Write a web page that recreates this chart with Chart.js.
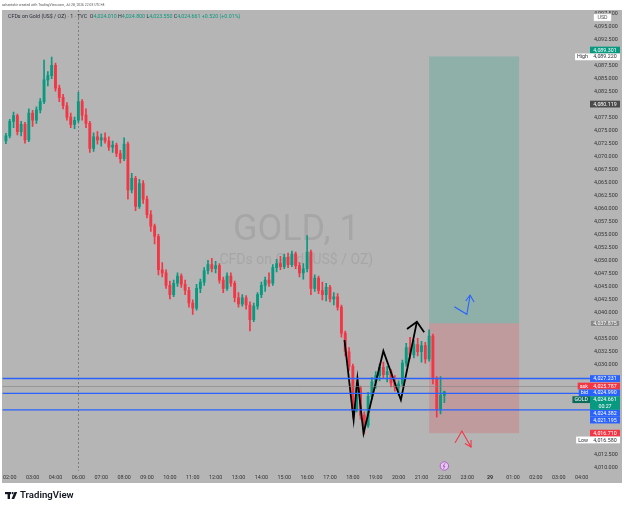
<!DOCTYPE html>
<html>
<head>
<meta charset="utf-8">
<title>GOLD, 1</title>
<script src="https://cdn.jsdelivr.net/npm/chart.js@4.4.1/dist/chart.umd.min.js"></script>
<style>
  html, body { margin: 0; padding: 0; background: #fff; }
  canvas { display: block; }
</style>
</head>
<body>
<canvas id="goldChart" width="625" height="509"></canvas>
<script>
// 10-minute candles; slot 0 = 02:00, 05:00-06:00 is the daily break
const firstSlot = -1;
const opens = [
  4073.0, 4074.0, 4076.8, 4077.9, 4074.8, 4076.2, 4073.2, 4078.4, 4077.0, 4079.0,
  4080.6, 4084.8, 4085.6, 4087.6, 4083.2, 4081.4, 4079.8, 4077.6, 4076.2, 4077.0,
  4080.6, 4078.0, 4076.4, 4071.6, 4073.8, 4073.2, 4073.6, 4073.0, 4071.8, 4072.2,
  4070.6, 4069.6, 4072.4, 4063.6, 4065.8, 4060.4, 4064.8, 4061.8, 4058.8, 4056.6,
  4054.6, 4048.2, 4047.6, 4045.2, 4043.4, 4045.6, 4047.0, 4045.4, 4044.2, 4041.8,
  4040.8, 4044.6, 4045.8, 4048.0, 4049.2, 4048.4, 4049.0, 4046.2, 4044.6, 4047.0,
  4045.6, 4042.8, 4041.6, 4042.8, 4041.4, 4038.6, 4041.2, 4043.4, 4045.2, 4046.2,
  4045.6, 4048.6, 4049.4, 4048.8, 4050.6, 4049.2, 4051.2, 4049.0, 4047.6, 4048.4,
  4051.6, 4044.6, 4046.6, 4044.2, 4043.4, 4044.8, 4042.6, 4043.0, 4041.0, 4036.0,
  4032.4, 4029.6, 4021.2, 4025.4, 4020.2, 4018.2, 4023.8, 4026.6, 4027.8, 4029.4,
  4028.0, 4028.6, 4026.4, 4025.6, 4026.2, 4030.2, 4033.2, 4031.8, 4033.8, 4032.4,
  4033.6, 4031.0, 4035.4, 4027.2, 4021.4, 4024.0
];
const highs = [
  4074.5, 4077.2, 4078.6, 4078.2, 4076.8, 4076.6, 4079.2, 4078.9, 4079.6, 4081.2,
  4088.6, 4086.4, 4089.2, 4088.0, 4083.8, 4082.0, 4080.4, 4078.4, 4077.6, 4082.4,
  4081.0, 4079.2, 4076.8, 4074.6, 4074.8, 4074.4, 4074.6, 4073.8, 4073.0, 4072.6,
  4071.2, 4073.6, 4072.8, 4066.8, 4066.2, 4065.6, 4065.4, 4062.4, 4059.6, 4057.0,
  4055.0, 4049.6, 4048.2, 4046.0, 4046.2, 4047.6, 4047.4, 4046.2, 4044.8, 4042.4,
  4045.4, 4046.4, 4048.6, 4050.0, 4050.4, 4049.8, 4049.4, 4046.8, 4047.6, 4047.6,
  4046.0, 4043.8, 4043.4, 4043.2, 4042.0, 4041.8, 4043.8, 4045.8, 4046.8, 4047.6,
  4049.2, 4050.2, 4050.8, 4051.2, 4051.4, 4051.8, 4051.6, 4049.6, 4049.4, 4054.8,
  4052.0, 4047.2, 4047.0, 4045.8, 4045.6, 4045.2, 4043.8, 4043.6, 4041.4, 4036.4,
  4033.2, 4030.0, 4026.4, 4025.8, 4020.8, 4024.6, 4027.4, 4028.6, 4030.0, 4030.4,
  4029.6, 4029.0, 4027.8, 4026.8, 4030.8, 4034.0, 4035.2, 4034.6, 4035.0, 4034.4,
  4034.2, 4036.6, 4035.8, 4027.6, 4027.6, 4024.8
];
const lows = [
  4072.5, 4073.6, 4075.6, 4074.2, 4074.0, 4072.6, 4072.9, 4075.8, 4076.4, 4078.4,
  4080.2, 4083.6, 4085.0, 4082.6, 4080.6, 4079.2, 4077.0, 4075.6, 4075.4, 4076.6,
  4077.0, 4075.6, 4070.8, 4071.0, 4072.4, 4072.0, 4072.6, 4071.2, 4070.8, 4070.0,
  4068.8, 4069.2, 4061.8, 4063.0, 4059.6, 4060.0, 4061.0, 4058.2, 4055.6, 4053.2,
  4047.2, 4046.8, 4044.6, 4042.6, 4043.0, 4045.0, 4044.8, 4043.4, 4041.0, 4039.6,
  4040.4, 4043.8, 4045.2, 4047.4, 4047.8, 4047.6, 4045.6, 4043.8, 4044.2, 4045.0,
  4042.0, 4041.0, 4041.2, 4040.6, 4036.4, 4038.2, 4040.6, 4042.8, 4044.0, 4045.0,
  4045.2, 4047.8, 4048.2, 4048.4, 4048.6, 4048.8, 4048.4, 4046.8, 4046.4, 4047.8,
  4043.4, 4044.0, 4043.6, 4042.4, 4042.2, 4042.0, 4041.4, 4040.4, 4035.2, 4031.6,
  4028.8, 4019.6, 4020.8, 4019.4, 4016.58, 4017.8, 4023.2, 4025.4, 4026.8, 4027.2,
  4026.6, 4025.6, 4024.8, 4024.0, 4025.8, 4029.6, 4031.0, 4031.2, 4031.6, 4030.4,
  4030.2, 4030.6, 4026.2, 4019.8, 4020.4, 4022.6
];
const closes = [
  4074.0, 4076.8, 4077.9, 4074.8, 4076.2, 4073.2, 4078.4, 4077.0, 4079.0, 4080.6,
  4084.8, 4085.6, 4087.6, 4083.2, 4081.4, 4079.8, 4077.6, 4076.2, 4077.0, 4080.6,
  4078.0, 4076.4, 4071.6, 4073.8, 4073.2, 4073.6, 4073.0, 4071.8, 4072.2, 4070.6,
  4069.6, 4072.4, 4063.6, 4065.8, 4060.4, 4064.8, 4061.8, 4058.8, 4056.6, 4054.6,
  4048.2, 4047.6, 4045.2, 4043.4, 4045.6, 4047.0, 4045.4, 4044.2, 4041.8, 4040.8,
  4044.6, 4045.8, 4048.0, 4049.2, 4048.4, 4049.0, 4046.2, 4044.6, 4047.0, 4045.6,
  4042.8, 4041.6, 4042.8, 4041.4, 4038.6, 4041.2, 4043.4, 4045.2, 4046.2, 4045.6,
  4048.6, 4049.4, 4048.8, 4050.6, 4049.2, 4051.2, 4049.0, 4047.6, 4048.4, 4051.6,
  4044.6, 4046.6, 4044.2, 4043.4, 4044.8, 4042.6, 4043.0, 4041.0, 4036.0, 4032.4,
  4029.6, 4021.2, 4025.4, 4020.2, 4018.2, 4023.8, 4026.6, 4027.8, 4029.4, 4028.0,
  4028.6, 4026.4, 4025.6, 4026.2, 4030.2, 4033.2, 4031.8, 4033.8, 4032.4, 4033.6,
  4031.0, 4035.4, 4027.2, 4021.4, 4024.0, 4024.661
];

// time axis
const hourSlots = [0, 6, 12, 18, 24, 30, 36, 42, 48, 54, 60, 66, 72, 78, 84, 90, 96, 102, 108, 114, 120, 126, 132, 138, 144, 150];
const hourLabels = ['02:00', '03:00', '04:00', '06:00', '07:00', '08:00', '09:00', '10:00', '11:00', '12:00', '13:00',
  '14:00', '15:00', '16:00', '17:00', '18:00', '19:00', '20:00', '21:00', '22:00', '23:00', '29', '01:00', '02:00', '03:00', '04:00'];
const sessionBreakSlot = 18;
const eventSlot = 114;

// price axis
const priceMin = 4009.42;
const priceMax = 4098.25;
const priceStep = 2.5;

// header (last 1-minute bar)
const lastBarOHLC = [4024.010, 4024.800, 4023.550, 4024.661];
const lastBarChange = '+0.520 (+0.01%)';

// drawings
const zigzagSlots = [87.8, 90.2, 91.2, 92.8, 98.0, 102.6, 106.8];
const zigzagPrices = [4034.66, 4019.25, 4027.28, 4016.69, 4032.54, 4023.10, 4038.19];
const zigzagHeadSlots = [104.2, 106.8, 108.7];
const zigzagHeadPrices = [4036.78, 4038.19, 4036.15];
const blueArrowSlots = [116.6, 119.9, 120.75];
const blueArrowPrices = [4041.08, 4039.61, 4043.28];
const blueHeadSlots = [119.6, 120.75, 121.8];
const blueHeadPrices = [4042.18, 4043.28, 4041.98];
const redArrowSlots = [116.8, 118.6, 121.0];
const redArrowPrices = [4014.87, 4017.13, 4014.05];
const redHeadSlots = [119.4, 121.0, 121.0];
const redHeadPrices = [4014.70, 4014.05, 4015.39];

// long position tool
const positionSlots = [110.0, 133.6];
const entryPrice = 4037.875;
const takeProfit = 4089.301;
const stopLoss = 4016.710;

// horizontal levels and price-scale marks
const blueLevels = [4027.231, 4024.382, 4021.195];
const askPrice = 4025.787;
const bidPrice = 4024.990;
const lastPrice = 4024.661;
const barCountdown = '00:27';
const dayHigh = 4089.220;
const dayLow = 4016.580;
const markerPrice = 4080.119;

const UP = '#089981', DOWN = '#f23645', BLUE = '#2962ff';
const PANE = '#b5b5b5';
const FONT = 'Roboto, "Liberation Sans", sans-serif';

const fmt = v => v.toLocaleString('en-US', { minimumFractionDigits: 3, maximumFractionDigits: 3 });
const pts = (xs, ys) => xs.map((x, i) => ({ x, y: ys[i] }));

const candleSlots = opens.map((_, i) => firstSlot + i);
const candleColors = closes.map((c, i) => c >= opens[i] ? UP : DOWN);

function lineSet(xs, ys, color, width) {
  return { type: 'line', data: pts(xs, ys), borderColor: color, borderWidth: width,
    pointRadius: 0, tension: 0, fill: false, order: 0 };
}

function axisLabel(ctx, x, yc, w, h, text, bg, fg, border) {
  ctx.fillStyle = bg;
  ctx.fillRect(x, yc - h / 2, w, h);
  if (border) {
    ctx.strokeStyle = border;
    ctx.lineWidth = 0.6;
    ctx.strokeRect(x + 0.3, yc - h / 2 + 0.3, w - 0.6, h - 0.6);
  }
  ctx.fillStyle = fg;
  ctx.textAlign = 'center';
  ctx.textBaseline = 'middle';
  ctx.fillText(text, x + w / 2, yc + 0.3);
}

const decor = {
  id: 'decor',
  beforeDraw(chart) {
    const { ctx } = chart;
    ctx.save();
    ctx.fillStyle = '#ffffff';
    ctx.fillRect(0, 0, chart.width, chart.height);
    ctx.fillStyle = PANE;
    ctx.fillRect(2, 10, 620, 473);

    ctx.textBaseline = 'middle';
    ctx.fillStyle = '#555';
    ctx.font = '3.4px ' + FONT;
    ctx.fillText('azhantahir created with TradingView.com, Jul 28, 2026 22:03 UTC+8', 2, 5);

    const dark = '#2a2e39';
    const parts = [
      ['CFDs on Gold (US$ / OZ) · 1 · TVC  ', dark],
      ['O', dark], [fmt(lastBarOHLC[0]), UP],
      [' H', dark], [fmt(lastBarOHLC[1]), UP],
      [' L', dark], [fmt(lastBarOHLC[2]), UP],
      [' C', dark], [fmt(lastBarOHLC[3]), UP],
      [' ' + lastBarChange, UP]
    ];
    ctx.font = '5.3px ' + FONT;
    let x = 8;
    parts.forEach(([t, c]) => {
      ctx.fillStyle = c;
      ctx.fillText(t, x, 17);
      x += ctx.measureText(t).width;
    });
    ctx.restore();
  },
  beforeDatasetsDraw(chart) {
    const { ctx, chartArea: a, scales: { x, y } } = chart;
    ctx.save();
    ctx.beginPath();
    ctx.rect(a.left, a.top, a.right - a.left, a.bottom - a.top);
    ctx.clip();

    // watermark
    const cx = (a.left + a.right) / 2;
    ctx.fillStyle = 'rgba(120,120,120,0.24)';
    ctx.textAlign = 'center';
    ctx.textBaseline = 'middle';
    ctx.font = '36px ' + FONT;
    ctx.fillText('GOLD, 1', cx, 231);
    ctx.font = '14px ' + FONT;
    ctx.fillText('CFDs on Gold (US$ / OZ)', cx, 260);

    // session break
    const bx = Math.round(x.getPixelForValue(sessionBreakSlot)) + 0.5;
    ctx.strokeStyle = 'rgba(80,80,80,0.55)';
    ctx.lineWidth = 1;
    ctx.setLineDash([2, 2]);
    ctx.beginPath();
    ctx.moveTo(bx, a.top);
    ctx.lineTo(bx, a.bottom);
    ctx.stroke();
    ctx.setLineDash([]);

    // long position zones
    const x0 = x.getPixelForValue(positionSlots[0]);
    const x1 = x.getPixelForValue(positionSlots[1]);
    const yTp = y.getPixelForValue(takeProfit);
    const yEn = y.getPixelForValue(entryPrice);
    const ySl = y.getPixelForValue(stopLoss);
    ctx.fillStyle = 'rgba(8,153,129,0.22)';
    ctx.fillRect(x0, yTp, x1 - x0, yEn - yTp);
    ctx.fillStyle = 'rgba(242,54,69,0.2)';
    ctx.fillRect(x0, yEn, x1 - x0, ySl - yEn);
    ctx.restore();
  },
  afterDatasetsDraw(chart) {
    const { ctx, chartArea: a, scales: { y } } = chart;
    ctx.save();
    // ask line
    const ya = Math.round(y.getPixelForValue(askPrice)) + 0.5;
    ctx.strokeStyle = 'rgba(130,130,130,0.6)';
    ctx.lineWidth = 1;
    ctx.beginPath();
    ctx.moveTo(a.left, ya);
    ctx.lineTo(a.right, ya);
    ctx.stroke();
    // blue levels
    ctx.strokeStyle = BLUE;
    ctx.lineWidth = 1.4;
    blueLevels.forEach(p => {
      const yy = y.getPixelForValue(p);
      ctx.beginPath();
      ctx.moveTo(a.left, yy);
      ctx.lineTo(a.right, yy);
      ctx.stroke();
    });
    ctx.restore();
  },
  afterDraw(chart) {
    const { ctx, chartArea: a, scales: { x, y } } = chart;
    ctx.save();
    ctx.font = '5.3px ' + FONT;
    const bx = a.right;
    const bw = 30;
    const h = 6.8;

    const marks = [
      { p: takeProfit, text: fmt(takeProfit), bg: UP, fg: '#fff' },
      { p: dayHigh, text: fmt(dayHigh), bg: '#fff', fg: '#2a2e39', tag: 'High', tagBg: '#fff', tagFg: '#2a2e39' },
      { p: markerPrice, text: fmt(markerPrice), bg: '#4a4a4a', fg: '#fff' },
      { p: entryPrice, text: fmt(entryPrice), bg: '#8a8a8a', fg: '#ffffff', border: '#cfcfcf' },
      { p: blueLevels[0], text: fmt(blueLevels[0]), bg: BLUE, fg: '#fff' },
      { p: askPrice, text: fmt(askPrice), bg: DOWN, fg: '#fff', tag: 'ask', tagBg: DOWN, tagFg: '#fff' },
      { p: bidPrice, text: fmt(bidPrice), bg: BLUE, fg: '#fff', tag: 'bid', tagBg: BLUE, tagFg: '#fff' },
      { p: lastPrice, text: fmt(lastPrice), sub: barCountdown, bg: UP, fg: '#fff', tag: 'GOLD', tagBg: '#0b6b5a', tagFg: '#fff' },
      { p: blueLevels[1], text: fmt(blueLevels[1]), bg: BLUE, fg: '#fff' },
      { p: blueLevels[2], text: fmt(blueLevels[2]), bg: BLUE, fg: '#fff' },
      { p: stopLoss, text: fmt(stopLoss), bg: DOWN, fg: '#fff' },
      { p: dayLow, text: fmt(dayLow), bg: '#fff', fg: '#2a2e39', tag: 'Low', tagBg: '#fff', tagFg: '#2a2e39' }
    ];
    marks.sort((m1, m2) => m2.p - m1.p);
    // stack overlapping labels downwards; the topmost label of the scale moves up instead
    const placed = [];
    marks.forEach(m => {
      m.hh = m.sub ? h * 2 : h;
      m.yc = y.getPixelForValue(m.p);
      const prev = placed[placed.length - 1];
      if (prev && m.yc - m.hh / 2 < prev.yc + prev.hh / 2) {
        if (placed.length === 1) {
          prev.yc = m.yc - m.hh / 2 - prev.hh / 2;
        } else {
          m.yc = prev.yc + prev.hh / 2 + m.hh / 2;
        }
      }
      placed.push(m);
    });

    // hide scale ticks hidden behind the labels
    y.ticks.forEach(t => {
      const py = y.getPixelForValue(t.value);
      if (placed.some(m => Math.abs(py - m.yc) < m.hh / 2 + 3)) {
        ctx.fillStyle = PANE;
        ctx.fillRect(bx + 1, py - 3.2, 31, 6.4);
      }
    });

    // USD box
    axisLabel(ctx, 593, 17.5, 19, 8, 'USD', '#ffffff', '#555', '#999');

    placed.forEach(m => {
      const yc = m.yc, hh = m.hh;
      if (m.sub) {
        ctx.fillStyle = m.bg;
        ctx.fillRect(bx, yc - hh / 2, bw, hh);
        ctx.fillStyle = m.fg;
        ctx.textAlign = 'center';
        ctx.textBaseline = 'middle';
        ctx.fillText(m.text, bx + bw / 2, yc - h / 2 + 0.3);
        ctx.fillText(m.sub, bx + bw / 2, yc + h / 2 + 0.3);
      } else {
        axisLabel(ctx, bx, yc, bw, h, m.text, m.bg, m.fg, m.border);
      }
      if (m.tag) {
        const tw = ctx.measureText(m.tag).width + 4;
        axisLabel(ctx, bx - tw, m.sub ? yc - h / 2 : yc, tw, h, m.tag, m.tagBg, m.tagFg);
      }
    });

    // economic event marker
    const ex = x.getPixelForValue(eventSlot);
    const ey = a.bottom - 5;
    ctx.beginPath();
    ctx.arc(ex, ey, 4.2, 0, Math.PI * 2);
    ctx.fillStyle = '#e6c8ee';
    ctx.fill();
    ctx.strokeStyle = '#a54bc4';
    ctx.lineWidth = 0.8;
    ctx.stroke();
    ctx.beginPath();
    ctx.moveTo(ex + 0.8, ey - 2.8);
    ctx.lineTo(ex - 1.3, ey + 0.3);
    ctx.lineTo(ex + 0.5, ey + 0.3);
    ctx.lineTo(ex - 0.8, ey + 2.8);
    ctx.strokeStyle = '#a54bc4';
    ctx.stroke();

    // TradingView logo
    ctx.fillStyle = '#131722';
    ctx.fillRect(5, 492, 6, 2.2);
    ctx.fillRect(7.6, 492, 2.4, 7);
    ctx.beginPath();
    ctx.arc(12.6, 493.1, 1.1, 0, Math.PI * 2);
    ctx.fill();
    ctx.beginPath();
    ctx.moveTo(14.5, 492);
    ctx.lineTo(17.2, 492);
    ctx.lineTo(14.2, 499);
    ctx.lineTo(11.5, 499);
    ctx.closePath();
    ctx.fill();
    ctx.font = '600 9.6px ' + FONT;
    ctx.textAlign = 'left';
    ctx.textBaseline = 'middle';
    ctx.fillText('TradingView', 20, 496);
    ctx.restore();
  }
};

new Chart(document.getElementById('goldChart'), {
  type: 'bar',
  data: {
    datasets: [
      lineSet(zigzagSlots, zigzagPrices, '#000000', 1.8),
      lineSet(zigzagHeadSlots, zigzagHeadPrices, '#000000', 1.8),
      lineSet(blueArrowSlots, blueArrowPrices, BLUE, 1.1),
      lineSet(blueHeadSlots, blueHeadPrices, BLUE, 1.1),
      lineSet(redArrowSlots, redArrowPrices, '#f23645', 1.1),
      lineSet(redHeadSlots, redHeadPrices, '#f23645', 1.1),
      {
        label: 'body',
        data: candleSlots.map((s, i) => ({ x: s, y: [opens[i], closes[i]] })),
        backgroundColor: candleColors,
        borderWidth: 0,
        barThickness: 2.2,
        minBarLength: 0.8,
        grouped: false,
        order: 1
      },
      {
        label: 'wick',
        data: candleSlots.map((s, i) => ({ x: s, y: [lows[i], highs[i]] })),
        backgroundColor: candleColors,
        borderWidth: 0,
        barThickness: 1,
        grouped: false,
        order: 2
      }
    ]
  },
  options: {
    responsive: false,
    animation: false,
    events: [],
    layout: { padding: { left: 2, top: 10, right: 3, bottom: 26 } },
    plugins: { legend: { display: false }, tooltip: { enabled: false } },
    scales: {
      x: {
        type: 'linear',
        offset: false,
        min: -1.86,
        max: 152.2,
        grid: { display: false, drawTicks: false },
        border: { display: false },
        afterBuildTicks: s => { s.ticks = hourSlots.map(v => ({ value: v })); },
        afterFit: s => { s.height = 12; },
        ticks: {
          autoSkip: false,
          maxRotation: 0,
          padding: 3,
          color: '#333',
          font: c => ({ family: FONT, size: 5.4, weight: c.tick && c.tick.label === '29' ? 'bold' : 'normal' }),
          callback: (v, i) => hourLabels[i]
        }
      },
      y: {
        position: 'right',
        min: priceMin,
        max: priceMax,
        grid: { display: false, drawTicks: false },
        border: { display: false },
        afterBuildTicks: s => {
          const ticks = [];
          for (let v = Math.ceil(priceMin / priceStep) * priceStep; v <= priceMax; v += priceStep) ticks.push({ value: v });
          s.ticks = ticks;
        },
        afterFit: s => { s.width = 32; },
        ticks: {
          padding: 4,
          color: '#333',
          font: { family: FONT, size: 5.4 },
          callback: v => fmt(v)
        }
      }
    }
  },
  plugins: [decor]
});
</script>
</body>
</html>
